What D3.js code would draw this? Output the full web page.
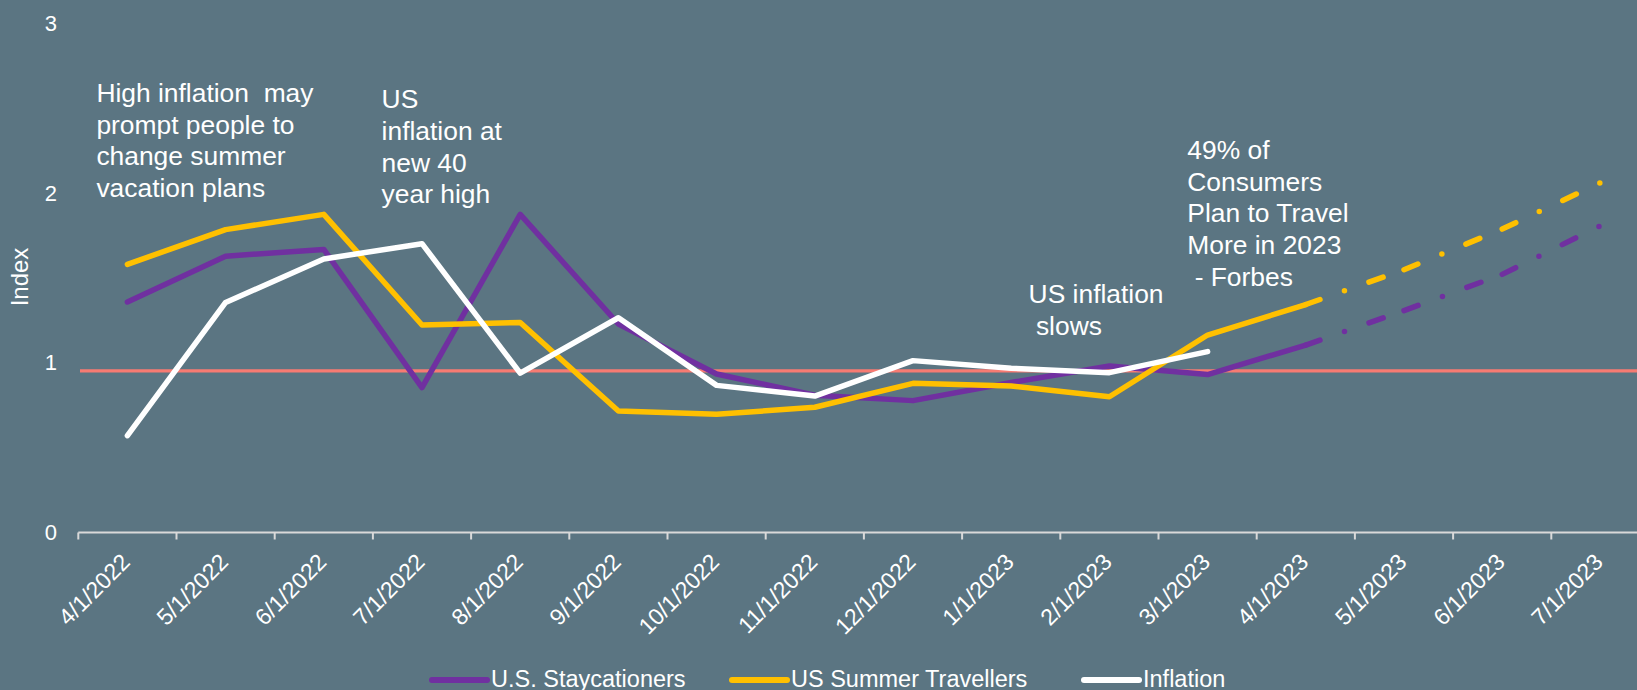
<!DOCTYPE html>
<html>
<head>
<meta charset="utf-8">
<script src="https://cdn.jsdelivr.net/npm/d3@7"></script>
<style>
  html, body { margin: 0; padding: 0; background: #5b7582; }
  svg { display: block; font-family: "Liberation Sans", Arial, sans-serif; }
</style>
</head>
<body>
<svg width="1637" height="690"></svg>
<script>
// categories (monthly)
var months = ["4/1/2022", "5/1/2022", "6/1/2022", "7/1/2022", "8/1/2022", "9/1/2022",
              "10/1/2022", "11/1/2022", "12/1/2022", "1/1/2023", "2/1/2023", "3/1/2023",
              "4/1/2023", "5/1/2023", "6/1/2023", "7/1/2023"];

// series values (index)
var staycationers    = [1.36, 1.63, 1.67, 0.855, 1.877, 1.23, 0.935, 0.81, 0.778, 0.885, 0.982, 0.932, 1.106, 1.309, 1.523, 1.81];
var summerTravellers = [1.582, 1.787, 1.877, 1.224, 1.239, 0.717, 0.697, 0.739, 0.88, 0.864, 0.801, 1.165, 1.345, 1.55, 1.79, 2.064];
var inflation        = [0.571, 1.357, 1.614, 1.704, 0.94, 1.267, 0.868, 0.805, 1.014, 0.969, 0.943, 1.067];

var forecastStart = "4/1/2023";   // from here the two survey series are projections
var baseline = 0.953;             // reference line
var yTicks = [0, 1, 2, 3];

var seriesNames = ["U.S. Staycationers", "US Summer Travellers", "Inflation"];

var notes = [
  ["High inflation  may", "prompt people to", "change summer", "vacation plans"],
  ["US", "inflation at", "new 40", "year high"],
  ["US inflation", " slows"],
  ["49% of", "Consumers", "Plan to Travel", "More in 2023", " - Forbes"]
];

var svg = d3.select("svg"),
    width = +svg.attr("width"),
    height = +svg.attr("height");

var colors = ["#7030a0", "#ffc000", "#ffffff"];

var x = d3.scaleBand()
    .domain(months)
    .range([78.3, 78.3 + 98.2 * months.length])
    .paddingInner(0).paddingOuter(0);

var y = d3.scaleLinear()
    .domain([0, 3])
    .range([532.5, 24]);

var cx = function(m) { return x(m) + x.bandwidth() / 2; };

// y tick labels
svg.append("g")
  .selectAll("text")
  .data(yTicks)
  .enter().append("text")
    .attr("x", 57)
    .attr("y", function(d) { return y(d); })
    .attr("dy", "0.33em")
    .attr("text-anchor", "end")
    .style("font-size", "22px")
    .style("fill", "#fff")
    .text(function(d) { return d; });

svg.append("text")
    .attr("transform", "translate(28,277) rotate(-90)")
    .attr("text-anchor", "middle")
    .style("font-size", "24px")
    .style("fill", "#fff")
    .text("Index");

// baseline
svg.append("line")
    .attr("x1", 80).attr("x2", width)
    .attr("y1", y(baseline)).attr("y2", y(baseline))
    .style("stroke", "#f77b72")
    .style("stroke-width", "3.3px");

// x axis
var axis = svg.append("g").attr("transform", "translate(0," + y(0) + ")");
axis.append("line")
    .attr("x1", x.range()[0]).attr("x2", width)
    .style("stroke", "#d9d9d9")
    .style("stroke-width", "2px");
axis.selectAll(".tick")
  .data(months)
  .enter().append("line")
    .attr("class", "tick")
    .attr("x1", function(d) { return x(d); })
    .attr("x2", function(d) { return x(d); })
    .attr("y1", 0).attr("y2", 7)
    .style("stroke", "#d9d9d9")
    .style("stroke-width", "2px");
axis.selectAll(".lbl")
  .data(months)
  .enter().append("text")
    .attr("class", "lbl")
    .attr("transform", function(d) { return "translate(" + (cx(d) + 4) + ",31) rotate(-45)"; })
    .attr("text-anchor", "end")
    .style("font-size", "23px")
    .style("fill", "#fff")
    .text(function(d) { return d; });

// lines
var line = d3.line()
    .x(function(d) { return cx(d.m); })
    .y(function(d) { return y(d.v); });

var fi = months.indexOf(forecastStart);

function drawSeries(values, color, split) {
  var pts = values.map(function(v, i) { return {m: months[i], v: v}; });
  var solid = split ? pts.slice(0, fi + 1) : pts;
  svg.append("path")
      .datum(solid)
      .attr("d", line)
      .style("fill", "none")
      .style("stroke", color)
      .style("stroke-width", "5.5px")
      .style("stroke-linejoin", "round")
      .style("stroke-linecap", "round");
  if (!split) return;
  // dash-dot projection, pattern restarts each segment
  for (var i = fi; i < pts.length - 1; i++) {
    svg.append("path")
        .datum([pts[i], pts[i + 1]])
        .attr("d", line)
        .style("fill", "none")
        .style("stroke", color)
        .style("stroke-width", "5.5px")
        .style("stroke-linecap", "round")
        .style("stroke-dasharray", "15,26,0,26");
  }
}

drawSeries(staycationers, colors[0], true);
drawSeries(summerTravellers, colors[1], true);
drawSeries(inflation, colors[2], false);

// annotations
var noteAt = [[96.4, 101.8], [381.6, 108.2], [1028.6, 303.3], [1187.3, 159]];
notes.forEach(function(lines, k) {
  var t = svg.append("text")
      .attr("x", noteAt[k][0])
      .attr("y", noteAt[k][1])
      .style("font-size", "26.4px")
      .style("fill", "#fff")
      .style("white-space", "pre");
  lines.forEach(function(s, j) {
    t.append("tspan")
        .attr("x", noteAt[k][0])
        .attr("y", noteAt[k][1] + j * 31.7)
        .text(s);
  });
});

// legend
var legendX = [432, 732, 1084];
var legend = svg.append("g")
  .selectAll("g")
  .data(seriesNames)
  .enter().append("g")
    .attr("transform", function(d, i) { return "translate(" + legendX[i] + ",680)"; });
legend.append("line")
    .attr("x1", 0).attr("x2", 55)
    .style("stroke", function(d, i) { return colors[i]; })
    .style("stroke-width", "6px")
    .style("stroke-linecap", "round");
legend.append("text")
    .attr("x", 59)
    .attr("y", 7)
    .style("font-size", "23.5px")
    .style("fill", "#fff")
    .text(function(d) { return d; });
</script>
</body>
</html>
